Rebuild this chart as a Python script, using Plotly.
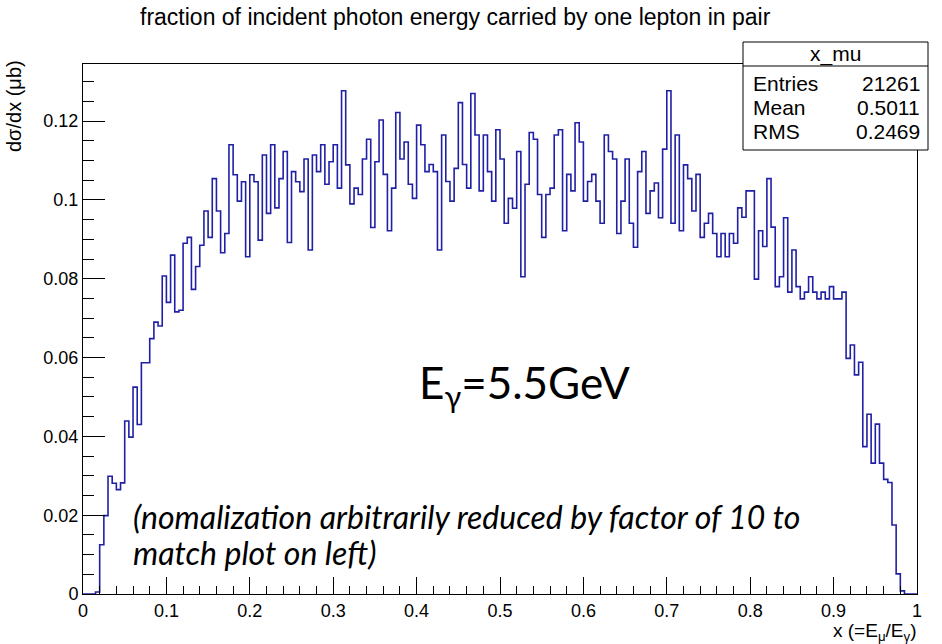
import numpy as np
import plotly.graph_objects as go

# ---------------- data ----------------
x_min, x_max, n_bins = 0.0, 1.0, 200
counts = [
    0, 0, 0, 0.0005, 0.0125, 0.0199, 0.0299, 0.0281, 0.0265, 0.0282,
    0.0439, 0.0398, 0.0525, 0.043, 0.0587, 0.0587, 0.0648, 0.069, 0.068, 0.0807,
    0.074, 0.086, 0.0716, 0.072, 0.089, 0.0905, 0.0773, 0.0831, 0.0885, 0.0972,
    0.0905, 0.1054, 0.0972, 0.0866, 0.0915, 0.114, 0.1064, 0.0997, 0.1046, 0.0856,
    0.1064, 0.1046, 0.0898, 0.1114, 0.0966, 0.114, 0.098, 0.1054, 0.1123, 0.0892,
    0.1072, 0.1046, 0.1021, 0.1104, 0.0873, 0.1114, 0.1072, 0.114, 0.104, 0.1097,
    0.114, 0.103, 0.1277, 0.1089, 0.099, 0.103, 0.1014, 0.1104, 0.1154, 0.093,
    0.1097, 0.1203, 0.1065, 0.0922, 0.103, 0.1222, 0.1104, 0.1147, 0.104, 0.1004,
    0.119, 0.114, 0.1072, 0.109, 0.1072, 0.0873, 0.1165, 0.1047, 0.0997, 0.108,
    0.1247, 0.109, 0.103, 0.127, 0.1165, 0.1023, 0.1165, 0.1072, 0.0997, 0.1178,
    0.1104, 0.0941, 0.1004, 0.0979, 0.1123, 0.0805, 0.104, 0.1171, 0.1154, 0.1014,
    0.0905, 0.1014, 0.103, 0.1165, 0.1178, 0.0922, 0.1065, 0.1023, 0.1196, 0.1147,
    0.0997, 0.1047, 0.1065, 0.0997, 0.0941, 0.1165, 0.1123, 0.1104, 0.0915, 0.0997,
    0.1104, 0.0941, 0.088, 0.1072, 0.1123, 0.0966, 0.1023, 0.1043, 0.0955, 0.1129,
    0.1277, 0.0941, 0.1165, 0.0922, 0.1089, 0.1054, 0.0972, 0.1065, 0.0905, 0.0941,
    0.0966, 0.0915, 0.0856, 0.0915, 0.0856, 0.0915, 0.089, 0.098, 0.0956, 0.1023,
    0.1023, 0.0799, 0.0922, 0.0882, 0.1054, 0.0931, 0.078, 0.0805, 0.0955, 0.0766,
    0.0873, 0.078, 0.0749, 0.0766, 0.0805, 0.0766, 0.0749, 0.0766, 0.0749, 0.078,
    0.0749, 0.0749, 0.0766, 0.0598, 0.0632, 0.0556, 0.0588, 0.0374, 0.0456, 0.0332,
    0.0431, 0.0332, 0.0291, 0.0283, 0.0175, 0.0051, 0.0008, 0, 0, 0,
]
x_tick_vals = [0, 0.1, 0.2, 0.3, 0.4, 0.5, 0.6, 0.7, 0.8, 0.9, 1.0]
x_tick_text = ["0", "0.1", "0.2", "0.3", "0.4", "0.5", "0.6", "0.7", "0.8", "0.9", "1"]
y_tick_vals = [0, 0.02, 0.04, 0.06, 0.08, 0.10, 0.12]
y_tick_text = ["0", "0.02", "0.04", "0.06", "0.08", "0.1", "0.12"]
stats_title = "x_mu"
stats_labels = ["Entries", "Mean", "RMS"]
stats_values = ["21261", "0.5011", "0.2469"]

# ---------------- figure ----------------
W, H = 942, 644
L, R, T, B = 83, 25, 64, 50
pw, ph = W - L - R, H - T - B


def px(x):
    return (x - L) / pw


def py(y):
    return (H - B - y) / ph


edges = np.linspace(x_min, x_max, n_bins + 1)
yvals = list(counts) + [counts[-1]]

line_col = "#2020a6"
font_main = "Liberation Sans, Arial, sans-serif"
font_slide = "Lato, Open Sans, sans-serif"

fig = go.Figure()
fig.add_trace(go.Scatter(x=edges, y=yvals, mode="lines", line=dict(color=line_col, width=1.6, shape="hv"),
                         hoverinfo="skip"))

axis_common = dict(showline=True, linecolor="black", linewidth=1, mirror=True, showgrid=False,
                   zeroline=False, ticks="inside", tickcolor="black", tickwidth=1,
                   tickfont=dict(family=font_main, size=18, color="black"))

fig.update_xaxes(range=[0, 1], tickmode="array", tickvals=x_tick_vals, ticktext=x_tick_text, ticklen=17,
                 minor=dict(ticks="inside", dtick=0.02, tick0=0, ticklen=8, tickcolor="black"), **axis_common)
fig.update_yaxes(range=[0, 0.1345], tickmode="array", tickvals=y_tick_vals, ticktext=y_tick_text, ticklen=22,
                 minor=dict(ticks="inside", dtick=0.005, tick0=0, ticklen=11, tickcolor="black"), **axis_common)

annotations = []
# title
annotations.append(dict(x=px(455), y=py(17), xref="paper", yref="paper", showarrow=False,
                        text="fraction of incident photon energy carried by one lepton in pair",
                        font=dict(family=font_main, size=23, color="black"), xanchor="center", yanchor="middle"))
# axis titles
annotations.append(dict(x=px(918), y=py(632), xref="paper", yref="paper", showarrow=False,
                        text="x (=E<sub>μ</sub>/E<sub>γ</sub>)", font=dict(family=font_main, size=19, color="black"),
                        xanchor="right", yanchor="middle"))
annotations.append(dict(x=px(14), y=py(58), xref="paper", yref="paper", showarrow=False, textangle=-90,
                        text="dσ/dx (μb)", font=dict(family=font_main, size=20, color="black"),
                        xanchor="center", yanchor="top"))
# energy label
annotations.append(dict(x=px(417), y=py(385), xref="paper", yref="paper", showarrow=False,
                        text="E<sub>γ</sub>=5.5GeV", font=dict(family=font_slide, size=44, color="black"),
                        xanchor="left", yanchor="middle"))
# normalization note (two lines)
annotations.append(dict(x=px(131), y=py(516), xref="paper", yref="paper", showarrow=False, align="left",
                        text="<i>(nomalization arbitrarily reduced by factor of 10 to</i>",
                        font=dict(family=font_slide, size=32, color="black"),
                        xanchor="left", yanchor="middle"))
annotations.append(dict(x=px(131), y=py(552), xref="paper", yref="paper", showarrow=False, align="left",
                        text="<i>match plot on left)</i>",
                        font=dict(family=font_slide, size=32, color="black"),
                        xanchor="left", yanchor="middle"))

# stats box
bx0, bx1, by0, by1, bsep = 743, 928, 42, 150, 66
shapes = [
    dict(type="rect", xref="paper", yref="paper", x0=px(bx0), x1=px(bx1), y0=py(by1), y1=py(by0),
         line=dict(color="black", width=1), fillcolor="white", layer="above"),
    dict(type="line", xref="paper", yref="paper", x0=px(bx0), x1=px(bx1), y0=py(bsep), y1=py(bsep),
         line=dict(color="black", width=1), layer="above"),
]
annotations.append(dict(x=px((bx0 + bx1) / 2), y=py(54), xref="paper", yref="paper", showarrow=False,
                        text=stats_title, font=dict(family=font_main, size=21, color="black"),
                        xanchor="center", yanchor="middle"))
row_y = [83, 107, 131]
for lab, val, ry in zip(stats_labels, stats_values, row_y):
    annotations.append(dict(x=px(751), y=py(ry), xref="paper", yref="paper", showarrow=False, text=lab,
                            font=dict(family=font_main, size=21, color="black"), xanchor="left", yanchor="middle"))
    annotations.append(dict(x=px(922), y=py(ry), xref="paper", yref="paper", showarrow=False, text=val,
                            font=dict(family=font_main, size=21, color="black"), xanchor="right", yanchor="middle"))

fig.update_layout(width=W, height=H, margin=dict(l=L, r=R, t=T, b=B), plot_bgcolor="white",
                  paper_bgcolor="white", showlegend=False, annotations=annotations, shapes=shapes)

fig.write_html("out.html")
